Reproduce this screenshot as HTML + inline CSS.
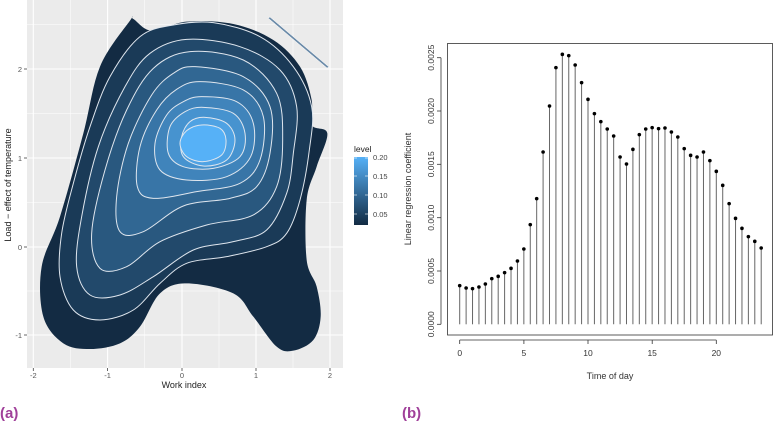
<!DOCTYPE html>
<html><head><meta charset="utf-8"><style>
html,body{margin:0;padding:0;background:#fff;}
svg{display:block;font-family:"Liberation Sans",sans-serif;}
</style></head><body>
<svg id="s" width="775" height="424" viewBox="0 0 775 424" xmlns="http://www.w3.org/2000/svg">
<rect x="27" y="0" width="316" height="368" fill="#ebebeb"/>
<g stroke="#fff" stroke-width="0.5">
<line x1="70.5" y1="0" x2="70.5" y2="368"/><line x1="144.5" y1="0" x2="144.5" y2="368"/>
<line x1="219" y1="0" x2="219" y2="368"/><line x1="293" y1="0" x2="293" y2="368"/>
<line x1="27" y1="24.5" x2="343" y2="24.5"/><line x1="27" y1="113.5" x2="343" y2="113.5"/>
<line x1="27" y1="202.5" x2="343" y2="202.5"/><line x1="27" y1="291" x2="343" y2="291"/>
</g>
<g stroke="#fff" stroke-width="1.1">
<line x1="33.3" y1="0" x2="33.3" y2="368"/><line x1="107.6" y1="0" x2="107.6" y2="368"/>
<line x1="182" y1="0" x2="182" y2="368"/><line x1="256" y1="0" x2="256" y2="368"/><line x1="330" y1="0" x2="330" y2="368"/>
<line x1="27" y1="69" x2="343" y2="69"/><line x1="27" y1="158" x2="343" y2="158"/>
<line x1="27" y1="247" x2="343" y2="247"/><line x1="27" y1="335" x2="343" y2="335"/>
</g>
<g id="dens" transform="scale(0.33333)"></g>
<polygon points="268,18 270,17 329,67 327,68" fill="#6a8aa8" stroke="#fff" stroke-width="0.5"/>
<g stroke="#444" stroke-width="0.8">
<line x1="33.3" y1="368" x2="33.3" y2="371"/><line x1="107.6" y1="368" x2="107.6" y2="371"/><line x1="182" y1="368" x2="182" y2="371"/><line x1="256" y1="368" x2="256" y2="371"/><line x1="330" y1="368" x2="330" y2="371"/>
<line x1="24" y1="69" x2="27" y2="69"/><line x1="24" y1="158" x2="27" y2="158"/><line x1="24" y1="247" x2="27" y2="247"/><line x1="24" y1="335" x2="27" y2="335"/>
</g>
<g font-size="7.5" fill="#555" text-anchor="middle">
<text x="33.3" y="378">-2</text><text x="107.6" y="378">-1</text><text x="182" y="378">0</text><text x="256" y="378">1</text><text x="330" y="378">2</text>
</g>
<g font-size="7.5" fill="#555" text-anchor="end">
<text x="22" y="72">2</text><text x="22" y="161">1</text><text x="22" y="250">0</text><text x="22" y="338">-1</text>
</g>
<text x="184" y="388" font-size="9" fill="#222" text-anchor="middle">Work index</text>
<text transform="translate(11,185) rotate(-90)" font-size="9" fill="#222" text-anchor="middle">Load − effect of temperature</text>
<defs><linearGradient id="lg" x1="0" y1="1" x2="0" y2="0"><stop offset="0" stop-color="#132b43"/><stop offset="1" stop-color="#56b1f7"/></linearGradient></defs>
<text x="354" y="152" font-size="8.5" fill="#222">level</text>
<rect x="354" y="157" width="14" height="68" fill="url(#lg)"/>
<g stroke="#fff" stroke-width="0.6">
<line x1="354" y1="158" x2="357" y2="158"/><line x1="365" y1="158" x2="368" y2="158"/>
<line x1="354" y1="176" x2="357" y2="176"/><line x1="365" y1="176" x2="368" y2="176"/>
<line x1="354" y1="195" x2="357" y2="195"/><line x1="365" y1="195" x2="368" y2="195"/>
<line x1="354" y1="214" x2="357" y2="214"/><line x1="365" y1="214" x2="368" y2="214"/>
</g>
<g font-size="7.5" fill="#444">
<text x="373" y="160">0.20</text><text x="373" y="179">0.15</text><text x="373" y="198">0.10</text><text x="373" y="217">0.05</text>
</g>
<text x="0" y="418" font-size="15" font-weight="bold" fill="#a0409a">(a)</text>

<rect x="447.5" y="43.5" width="325" height="291.5" fill="none" stroke="#333" stroke-width="0.8"/>
<g id="stems" stroke="#666" stroke-width="1"></g>
<g id="dots" fill="#000"></g>
<g stroke="#333" stroke-width="0.8" fill="none">
<line x1="459.7" y1="340" x2="716.3" y2="340"/>
<line x1="459.7" y1="340" x2="459.7" y2="344"/><line x1="523.9" y1="340" x2="523.9" y2="344"/><line x1="588" y1="340" x2="588" y2="344"/><line x1="652.2" y1="340" x2="652.2" y2="344"/><line x1="716.3" y1="340" x2="716.3" y2="344"/>
<line x1="441" y1="57.7" x2="441" y2="324.3"/>
<line x1="437" y1="57.7" x2="441" y2="57.7"/><line x1="437" y1="111" x2="441" y2="111"/><line x1="437" y1="164.3" x2="441" y2="164.3"/><line x1="437" y1="217.7" x2="441" y2="217.7"/><line x1="437" y1="271" x2="441" y2="271"/><line x1="437" y1="324.3" x2="441" y2="324.3"/>
</g>
<g font-size="8.5" fill="#333" text-anchor="middle">
<text x="459.7" y="356">0</text><text x="523.9" y="356">5</text><text x="588" y="356">10</text><text x="652.2" y="356">15</text><text x="716.3" y="356">20</text>
</g>
<g font-size="8.5" fill="#333" text-anchor="middle">
<text transform="translate(434,57.7) rotate(-90)">0.0025</text>
<text transform="translate(434,111) rotate(-90)">0.0020</text>
<text transform="translate(434,164.3) rotate(-90)">0.0015</text>
<text transform="translate(434,217.7) rotate(-90)">0.0010</text>
<text transform="translate(434,271) rotate(-90)">0.0005</text>
<text transform="translate(434,324.3) rotate(-90)">0.0000</text>
</g>
<text x="610" y="379" font-size="9" fill="#333" text-anchor="middle">Time of day</text>
<text transform="translate(411,189) rotate(-90)" font-size="9" fill="#333" text-anchor="middle">Linear regression coefficient</text>
<text x="402" y="418" font-size="15" font-weight="bold" fill="#a0409a">(b)</text>
</svg>
<script>
var NS="http://www.w3.org/2000/svg";
function cr(p){var n=p.length,d="M"+p[0][0]+","+p[0][1];
for(var i=0;i<n;i++){var p0=p[(i-1+n)%n],p1=p[i],p2=p[(i+1)%n],p3=p[(i+2)%n];
d+="C"+(p1[0]+(p2[0]-p0[0])/6)+","+(p1[1]+(p2[1]-p0[1])/6)+" "+(p2[0]-(p3[0]-p1[0])/6)+","+(p2[1]-(p3[1]-p1[1])/6)+" "+p2[0]+","+p2[1];}
return d+"Z";}
function lerp(a,b,t){return Math.round(a+(b-a)*t);}
function col(t){return "rgb("+lerp(19,86,t)+","+lerp(43,177,t)+","+lerp(67,247,t)+")";}
var shapes=[
[[400,57],[455,92],[560,65],[700,72],[820,120],[900,200],[935,300],[935,375],[982,400],[950,500],[920,600],[920,780],[950,860],[962,950],[940,1020],[880,1052],[830,1040],[760,950],[700,880],[560,850],[480,880],[420,980],[360,1030],[270,1047],[190,1030],[130,950],[125,800],[180,650],[250,400],[300,200],[390,62]],
[[520,75],[640,68],[780,110],[880,200],[935,320],[928,450],[900,600],[860,700],[800,740],[680,770],[560,790],[480,850],[400,930],[300,960],[220,930],[180,830],[185,700],[220,550],[270,380],[330,230],[420,110]],
[[560,118],[720,140],[840,210],[890,320],[880,460],[860,580],[800,690],[700,725],[580,750],[460,830],[360,885],[270,885],[230,800],[245,650],[295,440],[375,260],[450,160]],
[[570,155],[730,180],[830,280],[848,420],[830,560],[760,645],[620,675],[480,725],[380,800],[300,805],[275,700],[315,510],[380,330],[460,205]],
[[585,200],[730,230],[810,320],[810,460],[770,560],[690,595],[550,618],[430,695],[360,695],[350,590],[385,430],[455,285],[520,220]],
[[600,245],[730,270],[790,350],[780,480],[720,550],[590,575],[460,595],[412,560],[420,440],[470,330],[530,268]],
[[605,290],[710,305],[760,370],[752,470],[680,530],[560,540],[480,510],[465,430],[500,345],[550,305]],
[[610,322],[700,340],[735,400],[720,470],[640,505],[550,500],[505,460],[510,380],[555,335]],
[[615,352],[680,370],[705,420],[680,480],[610,498],[550,470],[545,410],[570,365]],
[[605,375],[660,385],[678,420],[665,465],[610,485],[560,470],[540,430],[560,392]]
];
var g=document.getElementById("dens");
for(var i=0;i<shapes.length;i++){var e=document.createElementNS(NS,"path");
e.setAttribute("d",cr(shapes[i]));e.setAttribute("fill",col(i/9));
if(i>0){e.setAttribute("stroke","#dfe6ee");e.setAttribute("stroke-width","3");}
g.appendChild(e);}
var ys=[857,864,866,861,852,836,829,818,805,783,747,674,596,456,318,203,163,167,195,248,298,341,365,387,408,471,492,448,404,387,383,386,384,396,411,446,466,471,456,482,514,556,611,655,685,710,724,744];
var st=document.getElementById("stems"),dt=document.getElementById("dots");
for(var k=0;k<ys.length;k++){var x=459.7+k*6.415,y=ys[k]/3;
var l=document.createElementNS(NS,"line");l.setAttribute("x1",x);l.setAttribute("x2",x);l.setAttribute("y1",324.3);l.setAttribute("y2",y);st.appendChild(l);
var c=document.createElementNS(NS,"circle");c.setAttribute("cx",x);c.setAttribute("cy",y);c.setAttribute("r",1.8);dt.appendChild(c);}
</script>
</body></html>
